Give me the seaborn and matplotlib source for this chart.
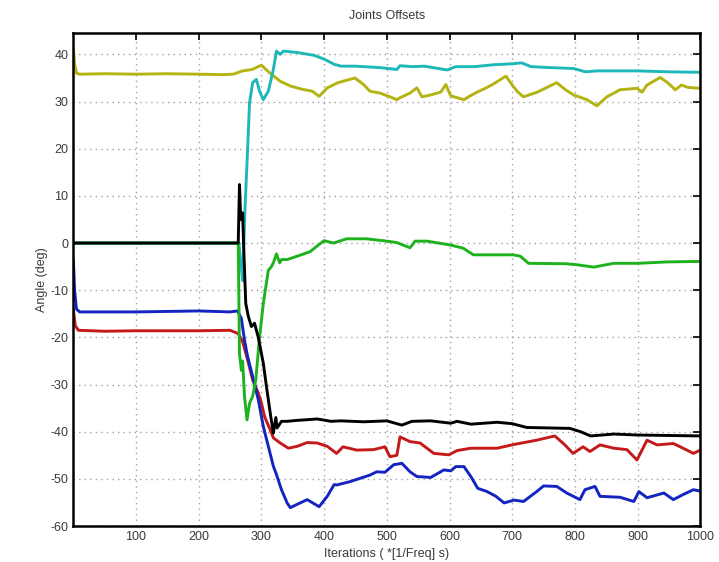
import matplotlib
matplotlib.use('Agg')
import matplotlib.pyplot as plt
import pandas as pd
import seaborn as sns

# joint offset traces
yellow_x = [0, 2, 5, 10, 50, 100, 150, 200, 240, 255, 270, 285, 300, 313, 330, 346, 365, 381, 392, 405,
            422, 441, 449, 463, 473, 489, 505, 516, 521, 537, 548, 556, 570, 586, 594, 602, 623, 633, 644, 660,
            671, 690, 700, 709, 718, 740, 771, 785, 798, 819, 835, 851, 872, 899, 907, 915, 936, 948, 960, 970,
            980, 1000]
yellow_y = [41.5, 38, 36, 35.8, 35.9, 35.8, 35.9, 35.8, 35.7, 35.8, 36.5, 36.8, 37.7, 36.1, 34.3, 33.3, 32.6, 32.2, 31.1, 32.9,
            34.0, 34.7, 35.0, 33.6, 32.2, 31.8, 31.0, 30.4, 30.8, 31.8, 32.9, 31.0, 31.4, 32.0, 33.6, 31.2, 30.4, 31.2, 32.0, 33.0,
            33.8, 35.4, 33.5, 32.0, 31.0, 32.0, 34.0, 32.5, 31.4, 30.4, 29.1, 31.0, 32.5, 32.8, 32.0, 33.5, 35.1, 34.0, 32.5, 33.5,
            33.0, 32.8]

cyan_x = [0, 264, 270, 274, 278, 281, 286, 292, 297, 303, 311, 319, 324, 330, 335, 357, 384, 400, 416, 427,
          450, 489, 516, 521, 540, 560, 596, 610, 640, 670, 699, 715, 730, 760, 798, 817, 835, 870, 900, 950,
          1000]
cyan_y = [0, 0, -8, 8, 20, 29.7, 34, 34.7, 32.2, 30.4, 32.2, 36.8, 40.7, 40.0, 40.7, 40.4, 39.8, 39.0, 37.9, 37.5,
          37.5, 37.2, 36.8, 37.6, 37.4, 37.5, 36.7, 37.4, 37.4, 37.8, 38.0, 38.2, 37.4, 37.2, 37.0, 36.3, 36.5, 36.5, 36.5, 36.3,
          36.2]

green_x = [0, 263, 265, 268, 270, 273, 277, 281, 286, 291, 297, 303, 311, 316, 319, 324, 329, 332, 341, 357,
           378, 391, 400, 415, 436, 468, 500, 516, 537, 545, 564, 601, 622, 638, 681, 702, 713, 726, 787, 803,
           830, 862, 900, 947, 1000]
green_y = [0, 0, -23.4, -27, -25, -32.5, -37.5, -34, -32.5, -29, -20, -12.8, -5.8, -5, -4.2, -2.3, -4.2, -3.5, -3.5, -2.8,
           -1.8, -0.4, 0.5, 0, 0.9, 0.9, 0.4, 0.1, -1.0, 0.4, 0.4, -0.4, -1.1, -2.5, -2.5, -2.5, -2.8, -4.3, -4.4, -4.6,
           -5.1, -4.3, -4.3, -4.0, -3.9]

black_x = [0, 263, 265, 267, 270, 272, 275, 279, 284, 289, 295, 303, 308, 314, 319, 323, 325, 332, 341, 357,
           389, 411, 427, 463, 500, 524, 540, 570, 602, 612, 634, 676, 700, 723, 792, 809, 825, 862, 900, 1000]
black_y = [0, 0, 12.4, 5, 6.4, -2, -12.8, -15.5, -17.7, -17, -20, -25.5, -30.4, -36, -40.3, -37, -39.2, -37.8, -37.8, -37.6,
           -37.3, -37.8, -37.7, -37.9, -37.7, -38.6, -37.8, -37.7, -38.2, -37.8, -38.4, -38.0, -38.3, -39.1, -39.3, -40.0, -40.9, -40.5, -40.7, -40.9]

red_x = [0, 3, 8, 50, 100, 150, 200, 250, 263, 270, 278, 286, 295, 300, 305, 314, 319, 330, 343, 357,
         373, 389, 405, 420, 430, 452, 479, 497, 505, 516, 521, 537, 553, 575, 599, 612, 634, 676, 703, 739,
         768, 784, 797, 813, 824, 840, 862, 883, 899, 915, 931, 957, 968, 989, 1000]
red_y = [-14, -17.5, -18.5, -18.7, -18.6, -18.6, -18.6, -18.5, -19.2, -20.9, -24.8, -29, -31.8, -33.9, -36.8, -39.6, -41.3, -42.4, -43.5, -43.1,
         -42.3, -42.4, -43.1, -44.6, -43.2, -43.9, -43.8, -43.2, -45.3, -45.0, -41.1, -42.1, -42.4, -44.6, -44.9, -44.0, -43.5, -43.5, -42.7, -41.8,
         -40.9, -42.8, -44.6, -43.2, -44.2, -42.8, -43.5, -43.8, -46.0, -41.8, -42.8, -42.5, -43.2, -44.6, -43.9]

blue_x = [0, 2, 5, 10, 50, 100, 150, 200, 250, 262, 268, 273, 278, 286, 295, 303, 311, 319, 324, 332,
          341, 346, 357, 373, 392, 405, 416, 420, 441, 473, 484, 497, 511, 524, 537, 548, 570, 591, 602, 610,
          623, 634, 645, 660, 674, 687, 703, 718, 739, 750, 771, 787, 808, 816, 832, 840, 872, 894, 902, 915,
          942, 957, 973, 989, 1000]
blue_y = [-3.5, -10, -14, -14.6, -14.6, -14.6, -14.5, -14.4, -14.6, -14.4, -16, -20.6, -24.1, -28.3, -33.2, -38.9, -43.1, -47.3, -49.1, -52.3,
          -55.1, -56.1, -55.4, -54.4, -55.9, -53.7, -51.2, -51.3, -50.6, -49.2, -48.5, -48.6, -47.0, -46.7, -48.5, -49.5, -49.7, -48.1, -48.3, -47.4,
          -47.4, -49.5, -52.0, -52.7, -53.7, -55.1, -54.5, -54.8, -52.7, -51.5, -51.6, -53.0, -54.4, -52.3, -51.6, -53.7, -53.9, -54.8, -52.7, -54.0,
          -53.0, -54.4, -53.3, -52.3, -52.6]

series = {
    'yellow': (yellow_x, yellow_y),
    'cyan': (cyan_x, cyan_y),
    'red': (red_x, red_y),
    'blue': (blue_x, blue_y),
    'green': (green_x, green_y),
    'black': (black_x, black_y),
}
colors = {'yellow': '#b3b312', 'cyan': '#1fb8b8', 'red': '#c41a1a',
          'blue': '#1424c0', 'green': '#1fb21f', 'black': '#000000'}

frames = []
for name, (xs, ys) in series.items():
    frames.append(pd.DataFrame({'iteration': xs, 'angle': ys, 'joint': name}))
data = pd.concat(frames, ignore_index=True)

sns.set_style('white')
plt.rcParams['font.family'] = ['Liberation Sans', 'DejaVu Sans']
plt.rcParams['axes.unicode_minus'] = False
text_color = '#3a3a3a'

figure = plt.figure(figsize=(7.19, 5.62), dpi=100)
axes = figure.add_axes([0.102, 0.064, 0.872, 0.877])

sns.lineplot(data=data, x='iteration', y='angle', hue='joint', hue_order=list(series),
             palette=colors, estimator=None, sort=False, linewidth=2.1, legend=False, ax=axes)

axes.set_xlim(0, 1000)
axes.set_ylim(-60, 44.5)
axes.set_xticks(range(100, 1001, 100))
axes.set_yticks(range(-60, 41, 10))
axes.grid(True, linestyle=(0, (1, 3)), color='#a0a0a0', linewidth=1.0)
axes.tick_params(direction='in', length=5, width=1.2, top=True, right=True,
                 labelsize=9, labelcolor=text_color, color='black')
for spine in axes.spines.values():
    spine.set_linewidth(1.8)
    spine.set_color('black')

axes.set_title('Joints Offsets', fontsize=9, color=text_color, pad=10)
axes.set_xlabel('Iterations ( *[1/Freq] s)', fontsize=9, color=text_color, labelpad=4)
axes.set_ylabel('Angle (deg)', fontsize=9, color=text_color, labelpad=2)

figure.savefig('out.png', dpi=100)
